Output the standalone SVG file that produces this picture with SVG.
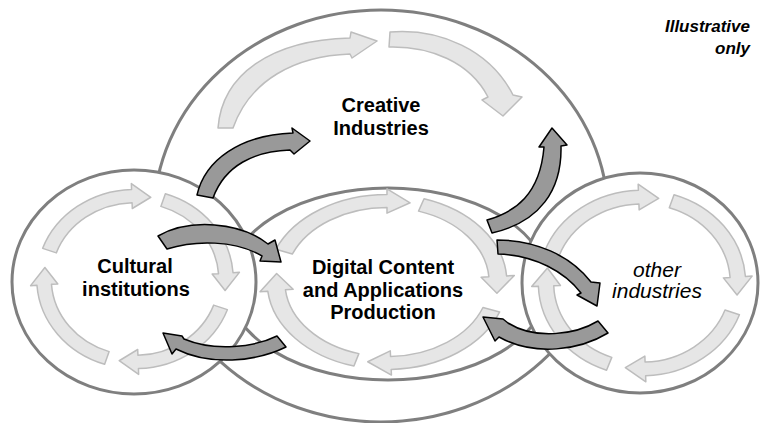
<svg xmlns="http://www.w3.org/2000/svg" xmlns:xlink="http://www.w3.org/1999/xlink" width="760" height="423" viewBox="0 0 760 423">
<style>
.ring{fill:#ffffff;stroke:#7f7f7f;stroke-width:3}
.la{fill:#e6e6e6;stroke:#bdbdbd;stroke-width:1.5;vector-effect:non-scaling-stroke;stroke-linejoin:round}
.da{fill:#999999;stroke:#000000;stroke-width:1.5;stroke-linejoin:round}
.t{font-family:"Liberation Sans",Arial,sans-serif;font-size:20px;font-weight:bold;fill:#000;text-anchor:middle}
.ti{font-family:"Liberation Sans",Arial,sans-serif;font-size:21px;font-style:italic;fill:#000;text-anchor:middle}
.note{font-family:"Liberation Sans",Arial,sans-serif;font-size:17px;font-style:italic;font-weight:bold;fill:#000;text-anchor:end}
</style>
<defs>
<path id="la" class="la" d="M108,0 A108,108 0 0 1 40.46,100.14 L43.08,106.63 L17.36,98.48 L31.84,78.81 L34.46,85.30 A92,92 0 0 0 92,0 Z"/>
</defs>
<rect width="760" height="423" fill="#ffffff"/>
<g id="creative">
<ellipse class="ring" cx="381" cy="216" rx="227" ry="206"/>
<path class="la" d="M218,128 C222,75 270,40 350,38 L351,32 L377,41 L352,58 L350,54 C295,56 250,80 233,128 Z"/>
<path class="la" d="M390,32 C440,28 490,50 513,95 L522,97 L503,116 L482,100 L488,97 C470,62 430,46 389,47 Z"/>
<text class="t" x="381" y="112">Creative</text>
<text class="t" x="381" y="135">Industries</text>
</g>
<g id="digital">
<ellipse class="ring" cx="388" cy="284" rx="160" ry="96"/>
<use xlink:href="#la" transform="translate(387,282) scale(1.11,0.81) rotate(20)"/>
<use xlink:href="#la" transform="translate(387,282) scale(1.11,0.81) rotate(106)"/>
<use xlink:href="#la" transform="translate(387,282) scale(1.11,0.81) rotate(202)"/>
<use xlink:href="#la" transform="translate(387,282) scale(1.11,0.81) rotate(288)"/>
<text class="t" x="383" y="274">Digital Content</text>
<text class="t" x="383" y="297">and Applications</text>
<text class="t" x="383" y="319">Production</text>
</g>
<g id="cultural">
<ellipse class="ring" cx="134" cy="282" rx="122" ry="112"/>
<use xlink:href="#la" transform="translate(135,279) scale(0.91,0.83) rotate(20)"/>
<use xlink:href="#la" transform="translate(135,279) scale(0.91,0.83) rotate(108)"/>
<use xlink:href="#la" transform="translate(135,279) scale(0.91,0.83) rotate(200)"/>
<use xlink:href="#la" transform="translate(135,279) scale(0.91,0.83) rotate(288)"/>
<text class="t" x="135" y="273">Cultural</text>
<text class="t" x="136" y="296">institutions</text>
</g>
<g id="other">
<ellipse class="ring" cx="640" cy="283" rx="118" ry="110"/>
<use xlink:href="#la" transform="translate(642,283) scale(0.96,0.86) rotate(20)"/>
<use xlink:href="#la" transform="translate(642,283) scale(0.96,0.86) rotate(110)"/>
<use xlink:href="#la" transform="translate(642,283) scale(0.96,0.86) rotate(200)"/>
<use xlink:href="#la" transform="translate(642,283) scale(0.96,0.86) rotate(288)"/>
<text class="ti" x="657" y="277">other</text>
<text class="ti" x="657" y="298">industries</text>
</g>
<g id="connectors">
<path class="da" d="M197,195 C205,160 240,135 293,133 L292,128 L310,141 L294,154 L290,150 C255,151 225,165 213,198 Z"/>
<path class="da" d="M487,220 C515,212 540,195 544,147 L539,147 L552,128 L567,145 L561,146 C562,190 540,222 492,233 Z"/>
<path class="da" d="M158,236 C190,218 240,222 268,244 L275,240 L281,262 L260,261 L262,256 C235,240 195,240 167,249 Z"/>
<path class="da" d="M277,336 C255,347 215,352 184,339 L182,336 L163,333 L172,354 L176,349 C210,366 255,362 286,347 Z"/>
<path class="da" d="M497,240 C535,240 570,255 591,282 L600,283 L597,306 L577,295 L581,293 C565,272 535,255 498,254 Z"/>
<path class="da" d="M598,321 C575,335 535,340 508,323 L503,319 L483,317 L495,341 L499,337 C535,357 580,350 608,333 Z"/>
</g>
<g id="note">
<text class="note" x="750" y="32">Illustrative</text>
<text class="note" x="750" y="54">only</text>
</g>
</svg>
